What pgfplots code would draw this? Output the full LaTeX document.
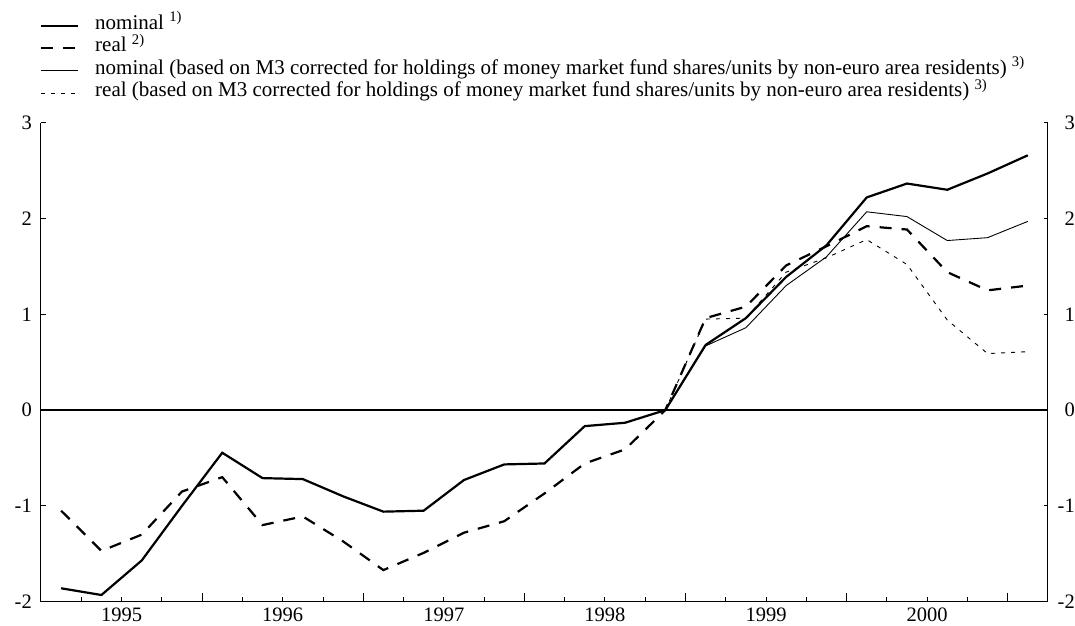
\documentclass[border=0pt]{standalone}
\usepackage{fontspec}
\setmainfont{Liberation Serif}
\usepackage{pgfplots}
\usepackage{pgfplotstable}
\pgfplotsset{compat=1.18}

\pgfplotstableread{
x nom real
0.5 -1.86 -1.05
1.5 -1.93 -1.47
2.5 -1.57 -1.30
3.5 -1.00 -0.85
4.5 -0.445 -0.70
5.5 -0.71 -1.20
6.5 -0.72 -1.11
7.5 -0.90 -1.37
8.5 -1.06 -1.67
9.5 -1.05 -1.49
10.5 -0.73 -1.28
11.5 -0.567 -1.16
12.5 -0.557 -0.87
13.5 -0.167 -0.557
14.5 -0.132 -0.41
15.5 0.00 0.00
16.5 0.68 0.96
17.5 0.96 1.08
18.5 1.39 1.51
19.5 1.72 1.71
20.5 2.22 1.92
21.5 2.365 1.885
22.5 2.30 1.44
23.5 2.47 1.25
24.5 2.66 1.30
}\maindata

\pgfplotstableread{
x nomc realc
15.5 0.00 0.00
16.5 0.67 0.95
17.5 0.86 0.96
18.5 1.30 1.44
19.5 1.60 1.59
20.5 2.07 1.78
21.5 2.02 1.52
22.5 1.77 0.94
23.5 1.80 0.59
24.5 1.97 0.61
}\corrdata

\begin{document}
\begin{tikzpicture}
\path[use as bounding box] (-41pt,-23.3pt) rectangle (1034pt,601.7pt);
\begin{axis}[
  at={(0pt,0pt)}, anchor=south west,
  scale only axis, width=1007pt, height=479pt,
  xmin=0, xmax=25, ymin=-2, ymax=3,
  axis x line*=bottom, axis y line*=left,
  every outer x axis line/.append style={-, line width=1pt},
  every outer y axis line/.append style={-, line width=1pt},
  x axis line style={-}, y axis line style={-},
  tick align=inside,
  tick style={black, line width=0.9pt},
  xtick={2,6,10,14,18,22},
  xticklabels={1995,1996,1997,1998,1999,2000},
  minor xtick={1,3,5,7,9,11,13,15,17,19,21,23},
  extra x ticks={4,8,12,16,20,24},
  extra x tick labels={},
  extra x tick style={major tick length=9pt},
  major tick length=5pt, minor tick length=5pt,
  ytick={-2,-1,0,1,2,3},
  yticklabels={-2,-1,0,1,2,3},
  xticklabel style={font=\fontsize{20.5}{22}\selectfont, inner sep=0pt, yshift=-6.3pt},
  yticklabel style={font=\fontsize{20.5}{22}\selectfont, anchor=east, inner sep=0pt, xshift=-9pt},
  legend cell align=left,
  legend style={at={(axis description cs:-0.001,1.2259)}, anchor=north west,
    draw=none, fill=none, inner sep=0pt, outer sep=0pt,
    font=\fontsize{21}{22.5}\selectfont, row sep=0pt,
    nodes={inner sep=0pt, text height=15pt, text depth=7.5pt},
    /tikz/every odd column/.append style={column sep=16pt}},
  legend image code/.code={\draw[#1] (0pt,0pt) -- (37pt,0pt);},
]
\draw[black, line width=1.8pt] (axis cs:0,0) -- (axis cs:25,0);
\addplot[black, line width=2.2pt] table[x=x, y=nom] {\maindata};
\addlegendentry{nominal \textsuperscript{1)}}
\addplot[black, line width=2.2pt, dash pattern=on 12pt off 10pt] table[x=x, y=real] {\maindata};
\addlegendentry{real \textsuperscript{2)}}
\addplot[black, line width=0.9pt] table[x=x, y=nomc] {\corrdata};
\addlegendentry{nominal (based on M3 corrected for holdings of money market fund shares/units by non-euro area residents) \textsuperscript{3)}}
\addplot[black, line width=0.9pt, dash pattern=on 4pt off 6pt] table[x=x, y=realc] {\corrdata};
\addlegendentry{real (based on M3 corrected for holdings of money market fund shares/units by non-euro area residents) \textsuperscript{3)}}
\end{axis}
\begin{axis}[
  at={(0pt,0pt)}, anchor=south west,
  scale only axis, width=1007pt, height=479pt,
  xmin=0, xmax=25, ymin=-2, ymax=3,
  axis x line=none, axis y line*=right,
  every outer y axis line/.append style={-, line width=1pt},
  y axis line style={-},
  tick align=inside,
  tick style={black, line width=0.9pt},
  ytick pos=right, yticklabel pos=right,
  ytick={-2,-1,0,1,2,3},
  yticklabels={-2,-1,0,1,2,3},
  major tick length=4pt,
  yticklabel style={font=\fontsize{20.5}{22}\selectfont, anchor=east, inner sep=0pt, xshift=27pt},
]
\end{axis}
\end{tikzpicture}
\end{document}
